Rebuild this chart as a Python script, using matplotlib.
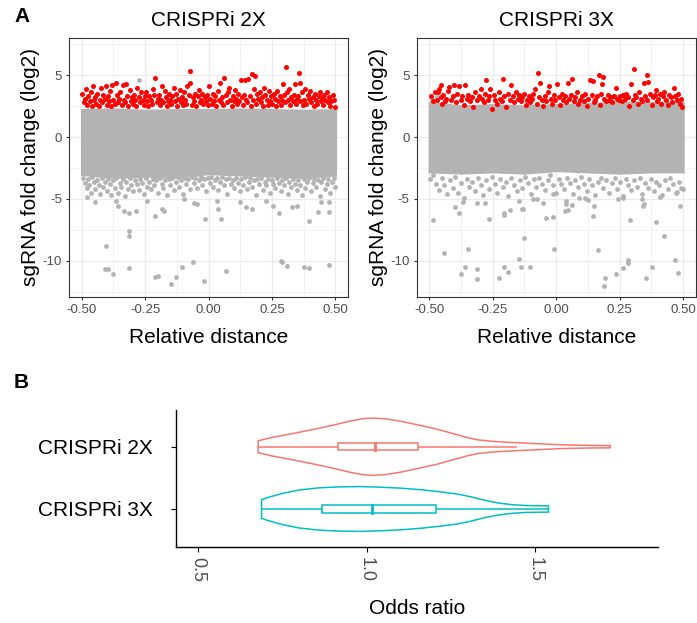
import matplotlib
matplotlib.use("Agg")
import matplotlib.pyplot as plt
from matplotlib.patches import Rectangle

plt.rcParams['font.family'] = ['Liberation Sans', 'DejaVu Sans']

panels = ["CRISPRi 2X", "CRISPRi 3X"]
red = "#FF0000"
grey = "#B3B3B3"

# ---- panel A: dense grey core read as an envelope (x, upper, lower) ----
core_x = [-0.505, -0.375, -0.25, -0.125, 0.0, 0.125, 0.25, 0.375, 0.505]
core_hi_2x = [2.3, 2.35, 2.25, 2.3, 2.3, 2.35, 2.3, 2.25, 2.3]
core_lo_2x = [-3.1, -3.35, -3.25, -3.35, -3.05, -3.15, -3.25, -3.35, -3.15]
core_hi_3x = [2.9, 2.6, 2.7, 2.6, 2.7, 2.8, 2.9, 2.9, 2.9]
core_lo_3x = [-2.9, -3.0, -2.9, -3.0, -2.8, -2.9, -3.0, -2.9, -2.9]

# grey points below the core, CRISPRi 2X
fringe_2x = [
    (-0.495, -3.3), (-0.488, -3.7), (-0.481, -4.1), (-0.476, -3.4), (-0.470, -3.9), (-0.463, -4.5),
    (-0.458, -3.2), (-0.451, -3.6), (-0.446, -4.2), (-0.439, -3.5), (-0.433, -3.9), (-0.428, -4.6),
    (-0.421, -3.3), (-0.415, -4.0), (-0.409, -3.6), (-0.402, -4.4), (-0.396, -3.4), (-0.389, -3.8),
    (-0.383, -4.7), (-0.377, -3.5), (-0.370, -4.1), (-0.364, -3.3), (-0.357, -4.5), (-0.350, -3.7),
    (-0.344, -4.0), (-0.337, -3.4), (-0.331, -4.8), (-0.324, -3.6), (-0.318, -4.2), (-0.311, -3.3),
    (-0.304, -3.9), (-0.297, -4.4), (-0.290, -3.5), (-0.283, -3.8), (-0.276, -4.3), (-0.269, -3.4),
    (-0.262, -3.7), (-0.255, -4.6), (-0.248, -3.3), (-0.241, -4.0), (-0.234, -3.6), (-0.227, -4.2),
    (-0.220, -3.4), (-0.213, -3.9), (-0.206, -3.5), (-0.199, -4.5), (-0.192, -3.3), (-0.185, -3.8),
    (-0.178, -4.1), (-0.171, -3.5), (-0.164, -4.7), (-0.157, -3.4), (-0.150, -3.9), (-0.143, -3.3),
    (-0.136, -4.3), (-0.129, -3.6), (-0.122, -3.2), (-0.115, -4.0), (-0.108, -3.5), (-0.101, -4.6),
    (-0.094, -3.3), (-0.087, -3.8), (-0.080, -3.4), (-0.073, -4.2), (-0.066, -3.2), (-0.059, -3.7),
    (-0.052, -3.3), (-0.045, -4.1), (-0.038, -3.5), (-0.031, -3.2), (-0.024, -3.9), (-0.017, -3.4),
    (-0.010, -4.4), (-0.003, -3.3), (0.004, -3.7), (0.011, -3.2), (0.018, -4.0), (0.025, -3.5),
    (0.032, -3.3), (0.039, -4.3), (0.046, -3.6), (0.053, -3.2), (0.060, -3.9), (0.067, -3.4),
    (0.074, -4.6), (0.081, -3.3), (0.088, -3.8), (0.095, -3.5), (0.102, -4.1), (0.109, -3.3),
    (0.116, -3.7), (0.123, -4.4), (0.130, -3.4), (0.137, -3.9), (0.144, -3.2), (0.151, -4.2),
    (0.158, -3.6), (0.165, -3.3), (0.172, -4.0), (0.179, -3.5), (0.186, -4.7), (0.193, -3.4),
    (0.200, -3.8), (0.207, -3.3), (0.214, -4.3), (0.221, -3.6), (0.228, -3.9), (0.235, -3.4),
    (0.242, -4.5), (0.249, -3.5), (0.256, -3.8), (0.263, -4.1), (0.270, -3.3), (0.277, -3.7),
    (0.284, -4.4), (0.291, -3.5), (0.298, -3.9), (0.305, -3.3), (0.312, -4.6), (0.319, -3.6),
    (0.326, -4.0), (0.333, -3.4), (0.340, -3.8), (0.347, -4.3), (0.354, -3.5), (0.361, -3.9),
    (0.368, -4.7), (0.375, -3.4), (0.382, -4.1), (0.389, -3.6), (0.396, -3.3), (0.403, -4.4),
    (0.410, -3.7), (0.417, -3.4), (0.424, -4.0), (0.431, -3.5), (0.438, -4.8), (0.445, -3.6),
    (0.452, -3.3), (0.459, -4.2), (0.466, -3.8), (0.473, -3.4), (0.480, -4.5), (0.487, -3.6),
    (0.494, -3.3), (0.497, -4.0),
]
outliers_2x = [
    (-0.478, -4.86), (-0.449, -5.27), (-0.365, -5.13), (-0.358, -5.54), (-0.332, -6.0), (-0.313, -6.13),
    (-0.287, -5.95), (-0.241, -5.13), (-0.209, -6.35), (-0.183, -5.8), (-0.176, -6.0), (-0.098, -5.0),
    (-0.059, -5.35), (-0.046, -5.4), (0.032, -5.13), (0.038, -5.8), (0.123, -5.27), (0.149, -5.67),
    (0.171, -5.8), (0.227, -5.13), (0.253, -5.54), (0.276, -6.13), (0.331, -5.67), (0.35, -5.54),
    (0.396, -6.76), (0.432, -6.03), (0.442, -5.27), (0.474, -6.08), (0.474, -5.22), (-0.403, -8.78),
    (-0.41, -10.68), (-0.397, -10.68), (-0.378, -11.03), (-0.313, -7.57), (-0.313, -7.97), (-0.313, -10.62),
    (-0.209, -11.3), (-0.2, -11.19), (-0.146, -11.89), (-0.128, -11.3), (-0.105, -10.49), (-0.062, -10.08),
    (-0.016, -11.62), (0.068, -10.81), (0.285, -10.0), (0.29, -10.13), (0.311, -10.46), (0.377, -10.54),
    (0.396, -10.62), (0.474, -10.35), (-0.014, -6.62), (0.051, -6.62), (-0.276, 4.6),
]
# significant sgRNAs (red), CRISPRi 2X
hits_2x = [
    (-0.497, 3.5), (-0.492, 2.8), (-0.488, 3.1), (-0.483, 3.9), (-0.478, 2.6), (-0.474, 3.3), (-0.468, 2.9),
    (-0.462, 3.6), (-0.458, 2.5), (-0.455, 4.1), (-0.452, 3.0), (-0.447, 3.2), (-0.443, 2.7), (-0.438, 3.5),
    (-0.433, 2.5), (-0.428, 3.0), (-0.423, 4.0), (-0.419, 2.8), (-0.414, 3.4), (-0.409, 3.1), (-0.404, 4.1),
    (-0.401, 2.6), (-0.398, 3.3), (-0.393, 2.9), (-0.389, 3.7), (-0.384, 2.5), (-0.379, 4.2), (-0.375, 3.0),
    (-0.370, 2.7), (-0.364, 4.35), (-0.360, 3.4), (-0.356, 2.8), (-0.352, 3.1), (-0.348, 3.6), (-0.343, 2.6),
    (-0.338, 4.2), (-0.334, 3.0), (-0.329, 2.8), (-0.325, 4.3), (-0.320, 3.3), (-0.316, 2.5), (-0.311, 3.8),
    (-0.306, 2.9), (-0.302, 3.2), (-0.298, 2.7), (-0.293, 3.4), (-0.289, 3.0), (-0.284, 2.5), (-0.280, 3.95),
    (-0.275, 3.2), (-0.270, 2.8), (-0.265, 3.6), (-0.260, 3.0), (-0.256, 2.6), (-0.252, 3.3), (-0.247, 3.6),
    (-0.243, 2.9), (-0.238, 2.5), (-0.233, 3.3), (-0.228, 3.0), (-0.223, 2.7), (-0.218, 3.9), (-0.213, 3.4),
    (-0.209, 4.76), (-0.205, 2.8), (-0.201, 3.1), (-0.197, 3.4), (-0.192, 2.6), (-0.188, 3.0), (-0.183, 4.1),
    (-0.178, 2.8), (-0.173, 3.7), (-0.168, 3.2), (-0.164, 2.5), (-0.159, 2.9), (-0.155, 3.5), (-0.151, 3.0),
    (-0.147, 2.7), (-0.142, 3.3), (-0.138, 3.95), (-0.133, 2.9), (-0.128, 3.5), (-0.124, 2.5), (-0.119, 3.1),
    (-0.114, 3.8), (-0.110, 2.8), (-0.105, 3.2), (-0.101, 2.6), (-0.097, 3.6), (-0.093, 3.0), (-0.088, 2.7),
    (-0.083, 4.1), (-0.078, 3.4), (-0.074, 4.4), (-0.071, 5.33), (-0.066, 2.6), (-0.062, 3.2), (-0.057, 2.9),
    (-0.053, 3.5), (-0.048, 2.5), (-0.043, 3.3), (-0.039, 3.76), (-0.034, 2.8), (-0.029, 3.0), (-0.024, 3.5),
    (-0.020, 2.7), (-0.015, 3.2), (-0.010, 2.9), (-0.006, 3.4), (-0.002, 2.6), (0.003, 4.1), (0.007, 3.1),
    (0.012, 2.7), (0.017, 3.5), (0.021, 2.9), (0.026, 3.3), (0.031, 2.5), (0.036, 3.7), (0.041, 3.0),
    (0.046, 4.38), (0.049, 2.8), (0.053, 3.2), (0.058, 2.6), (0.063, 4.76), (0.067, 3.4), (0.072, 2.8),
    (0.077, 3.6), (0.082, 4.0), (0.086, 3.0), (0.091, 2.5), (0.095, 3.3), (0.099, 2.9), (0.103, 3.8),
    (0.108, 3.1), (0.112, 2.7), (0.117, 3.5), (0.122, 2.9), (0.128, 4.6), (0.132, 3.2), (0.137, 2.6),
    (0.141, 3.4), (0.144, 4.6), (0.148, 3.0), (0.153, 2.8), (0.157, 4.7), (0.162, 3.3), (0.166, 2.5),
    (0.170, 5.1), (0.174, 3.0), (0.179, 3.9), (0.185, 4.95), (0.188, 2.7), (0.193, 3.5), (0.197, 3.1),
    (0.202, 3.6), (0.206, 2.8), (0.211, 3.2), (0.215, 2.5), (0.219, 4.0), (0.224, 3.4), (0.229, 3.0),
    (0.234, 2.6), (0.239, 3.7), (0.243, 2.9), (0.248, 3.3), (0.252, 2.7), (0.257, 3.5), (0.261, 3.1),
    (0.266, 2.5), (0.271, 3.7), (0.275, 2.9), (0.280, 3.3), (0.285, 2.6), (0.290, 3.0), (0.293, 4.25),
    (0.297, 3.4), (0.302, 2.8), (0.304, 5.65), (0.308, 3.6), (0.313, 3.0), (0.317, 3.9), (0.322, 2.6),
    (0.327, 3.2), (0.332, 2.9), (0.336, 3.4), (0.340, 4.25), (0.345, 2.7), (0.348, 3.1), (0.352, 3.3),
    (0.356, 5.17), (0.360, 2.9), (0.362, 4.4), (0.367, 3.6), (0.372, 2.6), (0.377, 3.0), (0.381, 3.9),
    (0.386, 2.7), (0.391, 3.4), (0.396, 3.1), (0.402, 3.7), (0.406, 2.8), (0.411, 3.2), (0.415, 2.5),
    (0.420, 3.5), (0.425, 3.0), (0.429, 2.7), (0.434, 3.3), (0.439, 3.6), (0.444, 2.9), (0.448, 3.1),
    (0.452, 2.6), (0.457, 3.4), (0.461, 3.0), (0.466, 3.63), (0.470, 2.8), (0.475, 3.2), (0.480, 2.5),
    (0.484, 2.9), (0.489, 3.4), (0.493, 3.0), (0.497, 2.4),
]

# CRISPRi 3X
fringe_3x = [
    (-0.496, -3.4), (-0.485, -3.1), (-0.474, -3.8), (-0.463, -4.3), (-0.452, -3.3), (-0.441, -3.9),
    (-0.430, -4.6), (-0.419, -3.5), (-0.408, -4.1), (-0.397, -3.2), (-0.386, -4.5), (-0.375, -3.7),
    (-0.364, -4.9), (-0.353, -3.4), (-0.342, -4.0), (-0.331, -3.6), (-0.320, -4.4), (-0.309, -3.3),
    (-0.298, -3.9), (-0.287, -4.7), (-0.276, -3.5), (-0.265, -4.2), (-0.254, -3.2), (-0.243, -3.8),
    (-0.232, -4.5), (-0.221, -3.4), (-0.210, -4.0), (-0.199, -3.6), (-0.188, -4.8), (-0.177, -3.3),
    (-0.166, -3.9), (-0.155, -4.4), (-0.144, -3.5), (-0.133, -4.1), (-0.122, -3.2), (-0.111, -3.7),
    (-0.100, -4.6), (-0.089, -3.4), (-0.078, -4.0), (-0.067, -3.3), (-0.056, -3.8), (-0.045, -4.3),
    (-0.034, -3.5), (-0.023, -3.1), (-0.012, -3.9), (-0.001, -4.5), (0.010, -3.4), (0.021, -3.8),
    (0.032, -4.2), (0.043, -3.3), (0.054, -3.7), (0.065, -4.6), (0.076, -3.5), (0.087, -4.0),
    (0.098, -3.2), (0.109, -3.8), (0.120, -4.4), (0.131, -3.4), (0.142, -3.9), (0.153, -4.7),
    (0.164, -3.6), (0.175, -3.3), (0.186, -4.1), (0.197, -3.5), (0.208, -4.5), (0.219, -3.7),
    (0.230, -3.3), (0.241, -4.2), (0.252, -3.6), (0.263, -4.8), (0.274, -3.4), (0.285, -3.9),
    (0.296, -4.3), (0.307, -3.5), (0.318, -4.0), (0.329, -3.3), (0.340, -4.6), (0.351, -3.7),
    (0.362, -4.1), (0.373, -3.4), (0.384, -4.4), (0.395, -3.6), (0.406, -3.9), (0.417, -4.7),
    (0.428, -3.5), (0.439, -4.2), (0.450, -3.3), (0.461, -3.8), (0.472, -4.5), (0.483, -3.6),
    (0.494, -4.1),
]
outliers_3x = [
    (-0.487, -6.68), (-0.441, -9.41), (-0.376, -11.08), (-0.359, -10.49), (-0.348, -9.05), (-0.314, -10.68),
    (-0.311, -11.49), (-0.385, -6.16), (-0.398, -5.67), (-0.366, -5.22), (-0.314, -5.32), (-0.279, -5.35),
    (-0.264, -6.62), (-0.227, -11.41), (-0.207, -10.54), (-0.191, -10.87), (-0.207, -6.16), (-0.207, -6.3),
    (-0.181, -5.86), (-0.148, -5.13), (-0.145, -9.86), (-0.138, -10.49), (-0.126, -8.19), (-0.135, -5.81),
    (-0.129, -5.81), (-0.103, -10.49), (-0.09, -5.0), (-0.077, -5.0), (-0.053, -5.32), (-0.042, -6.54),
    (-0.012, -6.49), (-0.008, -9.05), (-0.014, -4.59), (0.034, -5.95), (0.047, -5.89), (0.038, -5.4),
    (0.04, -5.19), (0.064, -5.49), (0.09, -4.92), (0.112, -4.92), (0.125, -5.05), (0.147, -6.4),
    (0.148, -5.54), (0.164, -9.11), (0.19, -12.03), (0.194, -11.41), (0.236, -11.03), (0.242, -5.0),
    (0.264, -10.6), (0.262, -4.95), (0.285, -10.14), (0.285, -9.95), (0.292, -6.68), (0.34, -5.0),
    (0.346, -5.4), (0.342, -5.54), (0.353, -11.43), (0.376, -10.49), (0.395, -6.89), (0.411, -4.86),
    (0.425, -7.97), (0.467, -9.95), (0.48, -11.0), (0.477, -4.46), (0.49, -5.54), (0.5, -4.19),
    (-0.49, 3.1), (-0.47, 3.2), (0.15, 3.1), (0.24, 3.2), (0.43, 3.1),
]
hits_3x = [
    (-0.494, 3.3), (-0.486, 2.9), (-0.478, 3.6), (-0.470, 3.0), (-0.467, 3.63), (-0.460, 3.9), (-0.456, 3.2),
    (-0.454, 4.22), (-0.451, 2.7), (-0.446, 3.4), (-0.440, 2.9), (-0.433, 3.1), (-0.426, 3.7), (-0.421, 4.03),
    (-0.415, 3.0), (-0.408, 3.3), (-0.402, 4.22), (-0.396, 2.8), (-0.390, 3.5), (-0.382, 4.11), (-0.376, 3.0),
    (-0.370, 3.3), (-0.364, 2.6), (-0.359, 4.17), (-0.353, 3.1), (-0.346, 3.4), (-0.340, 2.9), (-0.333, 3.2),
    (-0.326, 2.4), (-0.319, 3.6), (-0.312, 3.0), (-0.305, 3.3), (-0.298, 3.9), (-0.292, 3.1), (-0.286, 2.8),
    (-0.280, 3.5), (-0.276, 4.57), (-0.270, 3.0), (-0.264, 3.3), (-0.259, 3.9), (-0.253, 2.3), (-0.246, 3.4),
    (-0.240, 3.0), (-0.234, 2.7), (-0.227, 3.6), (-0.220, 3.1), (-0.214, 2.9), (-0.209, 4.65), (-0.204, 3.3),
    (-0.197, 2.4), (-0.190, 3.5), (-0.184, 3.0), (-0.177, 4.22), (-0.171, 3.3), (-0.165, 2.8), (-0.158, 3.6),
    (-0.152, 3.1), (-0.146, 3.4), (-0.140, 2.9), (-0.134, 3.2), (-0.127, 3.5), (-0.120, 2.6), (-0.114, 3.0),
    (-0.107, 3.3), (-0.102, 2.8), (-0.096, 3.1), (-0.090, 3.5), (-0.083, 3.84), (-0.077, 2.7), (-0.070, 5.19),
    (-0.066, 3.2), (-0.063, 4.38), (-0.057, 3.0), (-0.052, 2.5), (-0.046, 3.3), (-0.040, 2.9), (-0.033, 3.6),
    (-0.027, 4.11), (-0.021, 3.1), (-0.015, 2.7), (-0.009, 3.4), (-0.003, 3.0), (0.004, 4.3), (0.010, 3.2),
    (0.016, 2.6), (0.022, 3.5), (0.028, 3.0), (0.034, 3.3), (0.040, 2.8), (0.045, 4.38), (0.052, 3.1),
    (0.058, 3.4), (0.064, 4.65), (0.070, 2.9), (0.076, 3.2), (0.082, 3.6), (0.088, 2.7), (0.095, 3.0),
    (0.102, 3.3), (0.108, 2.9), (0.115, 3.5), (0.121, 2.5), (0.127, 3.1), (0.135, 4.57), (0.140, 3.4),
    (0.145, 4.49), (0.148, 2.8), (0.154, 3.0), (0.160, 3.3), (0.168, 4.98), (0.173, 2.6), (0.178, 3.5),
    (0.182, 4.3), (0.184, 4.84), (0.190, 3.1), (0.196, 2.9), (0.203, 3.4), (0.209, 3.0), (0.215, 3.2),
    (0.222, 2.8), (0.228, 3.3), (0.234, 3.95), (0.240, 3.1), (0.246, 3.0), (0.253, 3.3), (0.259, 2.9),
    (0.265, 3.4), (0.271, 3.1), (0.277, 3.5), (0.283, 3.2), (0.289, 2.5), (0.295, 4.3), (0.301, 3.0),
    (0.305, 5.46), (0.310, 3.4), (0.316, 3.2), (0.322, 2.7), (0.328, 3.6), (0.334, 3.1), (0.340, 2.9),
    (0.347, 4.38), (0.352, 3.3), (0.357, 4.98), (0.360, 3.0), (0.364, 4.44), (0.370, 3.5), (0.376, 2.6),
    (0.382, 3.2), (0.388, 3.4), (0.392, 3.76), (0.397, 2.9), (0.403, 3.1), (0.409, 3.5), (0.415, 2.7),
    (0.421, 3.3), (0.427, 3.6), (0.433, 3.0), (0.439, 2.6), (0.445, 3.4), (0.451, 3.2), (0.457, 2.8),
    (0.464, 3.95), (0.470, 3.3), (0.476, 3.0), (0.482, 3.5), (0.488, 2.7), (0.494, 3.1), (0.497, 2.46),
]

# ---- panel B: violin outlines (odds ratio, half width) and box stats ----
groups = ["CRISPRi 2X", "CRISPRi 3X"]
group_colors = ["#F8766D", "#00BFC4"]
violin_x = [
    [0.678, 0.72, 0.78, 0.84, 0.90, 0.95, 0.99, 1.02, 1.06, 1.10, 1.16, 1.21, 1.26, 1.30, 1.33,
     1.375, 1.43, 1.48, 1.53, 1.58, 1.65, 1.723],
    [0.688, 0.71, 0.75, 0.80, 0.86, 0.92, 0.98, 1.04, 1.10, 1.16, 1.22, 1.27, 1.31, 1.35, 1.39,
     1.43, 1.475, 1.54],
]
violin_w = [
    [0.095, 0.15, 0.21, 0.275, 0.345, 0.41, 0.45, 0.46, 0.445, 0.41, 0.34, 0.28, 0.205, 0.145, 0.11,
     0.085, 0.068, 0.055, 0.042, 0.03, 0.022, 0.018],
    [0.15, 0.19, 0.25, 0.305, 0.34, 0.355, 0.36, 0.35, 0.335, 0.31, 0.275, 0.24, 0.195, 0.14, 0.097,
     0.07, 0.055, 0.05],
]
box_lo = [0.678, 0.688]
box_q1 = [0.916, 0.868]
box_med = [1.025, 1.015]
box_q3 = [1.153, 1.206]
box_hi = [1.444, 1.54]

fig = plt.figure(figsize=(6.97, 6.23), dpi=100)
axA = [fig.add_axes([0.099, 0.5238, 0.4003, 0.4152]),
       fig.add_axes([0.5978, 0.5238, 0.4003, 0.4152])]

data_a = [
    (core_hi_2x, core_lo_2x, fringe_2x, outliers_2x, hits_2x),
    (core_hi_3x, core_lo_3x, fringe_3x, outliers_3x, hits_3x),
]
for ax, title, (hi, lo, fringe, outl, hits) in zip(axA, panels, data_a):
    ax.set_xlim(-0.55, 0.55)
    ax.set_ylim(-12.9, 8.0)
    ax.set_xticks([-0.5, -0.25, 0, 0.25, 0.5])
    ax.set_xticklabels(["-0.50", "-0.25", "0.00", "0.25", "0.50"])
    ax.set_yticks([-10, -5, 0, 5])
    ax.set_yticklabels(["-10", "-5", "0", "5"])
    ax.set_xticks([-0.375, -0.125, 0.125, 0.375], minor=True)
    ax.set_yticks([-12.5, -7.5, -2.5, 2.5, 7.5], minor=True)
    ax.grid(True, which="major", color="#EBEBEB", lw=0.9)
    ax.grid(True, which="minor", color="#EBEBEB", lw=0.45)
    ax.tick_params(which="minor", length=0)
    ax.tick_params(which="major", length=2.5, color="#333333", labelsize=9.5,
                   labelcolor="#4D4D4D", pad=2.5)
    ax.set_axisbelow(True)
    for s in ax.spines.values():
        s.set_color("#333333")
        s.set_linewidth(0.8)

    ax.fill_between(core_x, lo, hi, color=grey, lw=0, zorder=2)
    pts = fringe + outl
    ax.scatter([p[0] for p in pts], [p[1] for p in pts], s=12, color=grey, lw=0, zorder=3)
    ax.scatter([p[0] for p in hits], [p[1] for p in hits], s=13, color=red, lw=0, zorder=4)

    ax.set_title(title, fontsize=15, pad=9)
    ax.set_xlabel("Relative distance", fontsize=15, labelpad=9)
    ax.set_ylabel("sgRNA fold change (log2)", fontsize=15, labelpad=2)

axB = fig.add_axes([0.2525, 0.1225, 0.691, 0.2194])
positions = [2, 1]
for i, pos in enumerate(positions):
    c = group_colors[i]
    xs = violin_x[i]
    ws = violin_w[i]
    outline_x = xs + xs[::-1] + [xs[0]]
    outline_y = [pos + w for w in ws] + [pos - w for w in ws[::-1]] + [pos + ws[0]]
    axB.fill(outline_x, outline_y, facecolor="white", edgecolor=c, lw=1.1, zorder=2)
    axB.plot([box_lo[i], box_q1[i]], [pos, pos], color=c, lw=1.1, zorder=3)
    axB.plot([box_q3[i], box_hi[i]], [pos, pos], color=c, lw=1.1, zorder=3)
    axB.add_patch(Rectangle((box_q1[i], pos - 0.06), box_q3[i] - box_q1[i], 0.12,
                            facecolor="white", edgecolor=c, lw=1.1, zorder=4))
    axB.plot([box_med[i], box_med[i]], [pos - 0.06, pos + 0.06], color=c, lw=2.0, zorder=5)

axB.set_xlim(0.434, 1.864)
axB.set_ylim(0.395, 2.589)
axB.set_yticks(positions)
axB.set_yticklabels(groups, fontsize=15, color="black")
axB.set_xticks([0.5, 1.0, 1.5])
axB.set_xticklabels(["0.5", "1.0", "1.5"], rotation=-90, fontsize=13, color="#4D4D4D")
axB.tick_params(axis="y", length=3.5, width=0.8, pad=13)
axB.tick_params(axis="x", length=3.5, width=0.8, pad=4)
for side in ["top", "right"]:
    axB.spines[side].set_visible(False)
for side in ["left", "bottom"]:
    axB.spines[side].set_linewidth(1.0)
    axB.spines[side].set_color("black")
axB.set_xlabel("Odds ratio", fontsize=15, labelpad=12)

fig.text(14 / 697, 1 - 17 / 623, "A", fontsize=15, fontweight="bold", ha="left", va="center")
fig.text(14 / 697, 1 - 383 / 623, "B", fontsize=15, fontweight="bold", ha="left", va="center")

fig.savefig("out.png", dpi=100)
